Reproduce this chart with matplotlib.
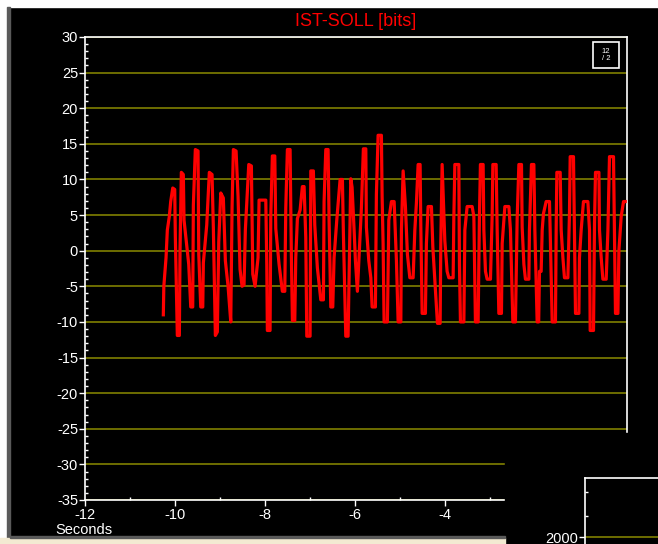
import matplotlib.pyplot as plt
from matplotlib.patches import Rectangle
from matplotlib.ticker import MultipleLocator

plt.rcParams['font.family'] = ['Liberation Sans', 'DejaVu Sans']
plt.rcParams['axes.unicode_minus'] = False

# trace vertices: time before trigger (s) and IST-SOLL deviation (bits)
t_sec = [
    -10.260, -10.249, -10.200, -10.171, -10.127, -10.096, -10.051, -10.007, -9.993, -9.949,
    -9.904, -9.889, -9.860, -9.816, -9.800, -9.740, -9.696, -9.651, -9.607, -9.593,
    -9.549, -9.489, -9.473, -9.429, -9.384, -9.371, -9.296, -9.238, -9.178, -9.149,
    -9.104, -9.060, -9.029, -8.984, -8.927, -8.882, -8.822, -8.762, -8.733, -8.704,
    -8.644, -8.600, -8.556, -8.511, -8.467, -8.438, -8.362, -8.304, -8.273,
    -8.222, -8.156, -8.133, -7.984, -7.962, -7.949, -7.889, -7.873, -7.838, -7.784,
    -7.762, -7.689, -7.616, -7.562, -7.540, -7.504, -7.444, -7.416, -7.393, -7.340,
    -7.318, -7.282, -7.222, -7.171, -7.133, -7.096, -7.073, -7.000, -6.984, -6.927,
    -6.896, -6.838, -6.762, -6.704, -6.689, -6.651, -6.600, -6.578, -6.540, -6.496,
    -6.467, -6.407, -6.333, -6.282, -6.260, -6.207, -6.156,
    -6.118, -6.096, -6.067, -6.022, -5.993, -5.949, -5.860, -5.816, -5.762, -5.749,
    -5.696, -5.651, -5.622, -5.549, -5.527, -5.489, -5.416, -5.400, -5.378, -5.356,
    -5.282, -5.251, -5.193, -5.133, -5.082, -5.044, -4.984, -4.971, -4.933, -4.882,
    -4.838, -4.784, -4.711, -4.673, -4.638, -4.600, -4.556, -4.540, -4.511, -4.438,
    -4.416, -4.378, -4.304, -4.273, -4.171, -4.111, -4.096, -4.067,
    -4.007, -3.956, -3.918, -3.822, -3.807, -3.784, -3.696, -3.682, -3.660, -3.584,
    -3.562, -3.511, -3.400, -3.362, -3.327, -3.267, -3.238, -3.216, -3.156, -3.140,
    -3.104, -3.067, -2.993, -2.956, -2.940, -2.867, -2.844, -2.807, -2.749, -2.733,
    -2.673, -2.584, -2.549, -2.496, -2.438, -2.400, -2.362, -2.304, -2.289, -2.251,
    -2.216, -2.140, -2.127, -2.082, -2.029, -2.007,
    -1.956, -1.922, -1.904, -1.867, -1.844, -1.816, -1.756, -1.682, -1.667, -1.622,
    -1.549, -1.533, -1.518, -1.444, -1.422, -1.384, -1.349, -1.273, -1.238, -1.222,
    -1.149, -1.127, -1.104, -1.029, -1.016, -0.978, -0.927, -0.829, -0.793, -0.778,
    -0.704, -0.682, -0.660, -0.584, -0.571, -0.533, -0.496, -0.422, -0.384, -0.349,
    -0.260, -0.238, -0.216, -0.162, -0.140, -0.089, -0.038, 0.000,
]
ist_soll = [
    -9.0, -5.0, -1.0, 2.9, 4.8, 6.9, 8.8, 8.6, 1.9, -11.9,
    -11.9, 0.0, 11.0, 10.7, 4.3, 0.7, -1.9, -7.9, -7.9, 6.4,
    14.2, 14.0, -0.5, -7.9, -7.9, -1.7, 3.6, 11.0, 10.7, 3.3,
    -11.9, -11.4, 1.2, 8.1, 7.4, -1.4, -5.0, -10.0, 6.2, 14.2,
    14.0, 7.6, -2.6, -5.0, -4.8, 2.9, 12.1, 11.9, -3.3,
    -5.0, -1.0, 7.1, 7.1, -2.0, -11.2, -11.2, 4.8, 13.3, 13.3,
    3.1, -1.9, -5.7, -5.7, 6.0, 14.2, 14.2, -0.5, -9.8, -9.8,
    -1.0, 4.5, 5.7, 9.0, 9.0, 1.9, -12.0, -12.0, 11.2, 11.2,
    3.6, -2.4, -6.9, -6.9, 6.9, 14.2, 14.2, 4.3, -7.9, -7.9,
    -1.0, 4.3, 10.0, 10.0, 2.4, -12.0, -12.0,
    1.9, 10.1, 8.9, 2.9, -1.4, -5.7, 6.0, 14.3, 14.3, 3.3,
    -1.4, -3.8, -7.9, -7.9, 7.9, 16.2, 16.2, 7.6, 1.0, -10.0,
    -10.0, 4.3, 6.9, 6.9, -1.4, -10.0, -10.0, 2.9, 11.2, 6.2,
    -0.5, -3.8, -3.8, 2.9, 6.7, 12.1, 12.1, 3.3, -8.8, -8.8,
    1.0, 6.2, 6.2, 0.5, -10.2, -10.2, 1.0, 12.1,
    1.4, -2.9, -3.8, -3.8, 4.5, 12.1, 12.1, -1.9, -10.0, -10.0,
    2.9, 6.2, 6.2, 4.8, -10.0, -10.0, 4.8, 12.1, 12.1, 2.9,
    -2.9, -4.0, -4.0, 4.8, 12.1, 12.1, 2.9, -8.8, -8.8, 1.0,
    6.2, 6.2, 2.9, -10.0, -10.0, 4.5, 12.1, 12.1, 3.3, -1.9,
    -4.0, -4.0, 2.9, 12.1, 12.1, 2.9,
    -10.0, -10.0, -2.9, -2.9, 2.9, 5.2, 6.9, 6.9, 2.9, -10.0,
    -10.0, 3.3, 11.0, 11.0, 2.9, -1.0, -3.8, -3.8, 5.2, 13.2,
    13.2, 2.9, -8.8, -8.8, -1.0, 2.9, 6.9, 6.9, 2.9, -11.2,
    -11.2, 3.8, 11.0, 11.0, 2.9, -1.0, -4.0, -4.0, 2.9, 13.2,
    13.2, 1.9, -8.8, -8.8, 0.0, 4.8, 6.9, 6.9,
]

y_ticks = list(range(-35, 31, 5))
x_ticks = [-12, -10, -8, -6, -4, -2]

W, H = 658, 544
GRID = '#808000'
FG = 'white'


def fx(px):
    return px / W


def fy(py):
    return 1 - py / H


fig = plt.figure(figsize=(W / 100, H / 100), dpi=100, facecolor='black')

ax = fig.add_axes([fx(85), fy(500), fx(627) - fx(85), fy(37) - fy(500)], facecolor='black')
for y in y_ticks:
    ax.axhline(y, color=GRID, lw=1.2, zorder=1)
ax.plot(t_sec, ist_soll, color='#ff0000', lw=2.3, zorder=3)

ax.set_xlim(-12, 0.04)
ax.set_ylim(-35, 30)
ax.set_yticks(y_ticks)
ax.set_xticks(x_ticks)
ax.yaxis.set_minor_locator(MultipleLocator(1))
ax.xaxis.set_minor_locator(MultipleLocator(1))
ax.tick_params(which='major', colors=FG, labelsize=10.5, length=4, width=1, direction='out')
ax.tick_params(axis='y', which='major', pad=1)
ax.tick_params(axis='x', which='major', pad=1.5)
ax.tick_params(which='minor', colors=FG, length=2, width=1, direction='in')
for s in ax.spines.values():
    s.set_color(FG)
    s.set_linewidth(1.2)
ax.set_title('IST-SOLL [bits]', color='#ff0000', fontsize=13, pad=8)

fig.text(fx(55), fy(534), 'Seconds', color=FG, fontsize=10.5, va='baseline', ha='left')

# small clock icon in the corner
fig.add_artist(Rectangle((fx(593), fy(68)), fx(26), 26 / H, transform=fig.transFigure,
                         fill=False, edgecolor=FG, lw=1.2, zorder=4))
fig.text(fx(606), fy(55), '12\n/ 2', color=FG, fontsize=5.5, ha='center', va='center',
         linespacing=0.9, zorder=4)

# neighbouring window overlapping the lower right corner
fig.add_artist(Rectangle((fx(505), 0), 1 - fx(505), fy(433), transform=fig.transFigure,
                         color='black', zorder=5))
ax2 = fig.add_axes([fx(585), 0, 1 - fx(585), fy(478)], facecolor='black', zorder=6)
ax2.axhline(2000, color=GRID, lw=1.2)
ax2.set_xlim(0, 1)
ax2.set_ylim(1900, 2850)
ax2.set_xticks([])
ax2.set_yticks([2000])
ax2.set_yticks([2300, 2650], minor=True)
ax2.tick_params(which='major', colors=FG, labelsize=10.5, length=4, width=1, pad=1)
ax2.tick_params(which='minor', colors=FG, length=2, width=1, direction='in')
for side in ['bottom', 'right']:
    ax2.spines[side].set_visible(False)
for side in ['left', 'top']:
    ax2.spines[side].set_color(FG)
    ax2.spines[side].set_linewidth(1.2)

# window frame strips
fig.add_artist(Rectangle((0, fy(7)), 1, 7 / H, transform=fig.transFigure, color='white', zorder=7))
fig.add_artist(Rectangle((0, 0), fx(6), 1, transform=fig.transFigure, color='white', zorder=7))
fig.add_artist(Rectangle((fx(7), 0), fx(3), fy(7), transform=fig.transFigure, color='#5a5a5a', zorder=7))
fig.add_artist(Rectangle((0, 0), fx(505), 6 / H, transform=fig.transFigure, color='#f3ead2', zorder=7))
fig.add_artist(Rectangle((fx(10), 6 / H), fx(495), 2 / H, transform=fig.transFigure, color='#5a5a5a', zorder=7))

fig.savefig('out.png', dpi=100, facecolor=fig.get_facecolor())
